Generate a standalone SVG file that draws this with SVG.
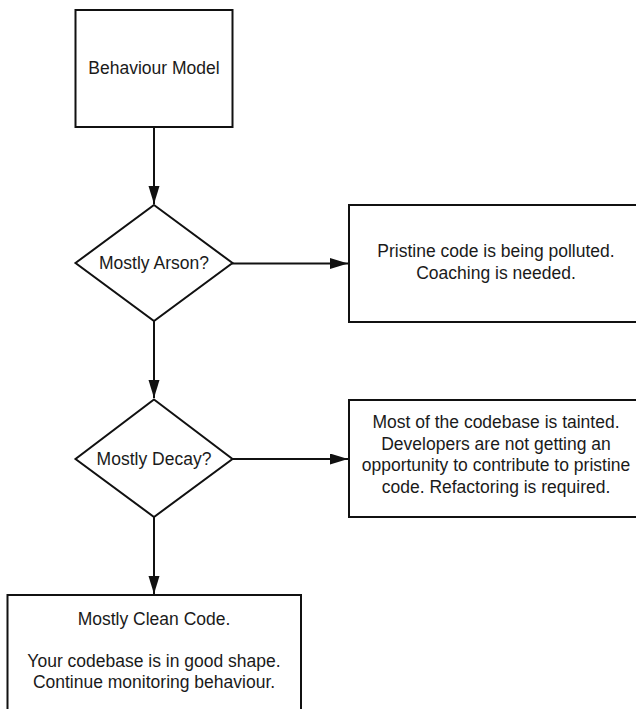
<svg xmlns="http://www.w3.org/2000/svg" width="636" height="709" viewBox="0 0 636 709">
<style>
.shape{fill:#fff;stroke:#111;stroke-width:2}
.lbl{font-family:"Liberation Sans",Arial,sans-serif;font-size:17.5px;fill:#1a1a1a;text-anchor:middle}
.conn{fill:none;stroke:#111;stroke-width:2}
</style>
<defs>
<marker id="arr" markerUnits="userSpaceOnUse" markerWidth="19" markerHeight="12" refX="18" refY="5.5" orient="auto">
<path d="M0,0 L18,5.5 L0,11 z" fill="#111"/>
</marker>
</defs>
<rect width="636" height="709" fill="#fff"/>
<g id="connectors">
<line class="conn" x1="154" y1="127" x2="154" y2="204" marker-end="url(#arr)"/>
<line class="conn" x1="232" y1="263.5" x2="348" y2="263.5" marker-end="url(#arr)"/>
<line class="conn" x1="154" y1="321" x2="154" y2="398" marker-end="url(#arr)"/>
<line class="conn" x1="232" y1="459" x2="348" y2="459" marker-end="url(#arr)"/>
<line class="conn" x1="154" y1="517" x2="154" y2="594" marker-end="url(#arr)"/>
</g>
<g id="behaviour-model">
<rect class="shape" x="75.5" y="10" width="157" height="117"/>
<text class="lbl" x="154" y="74">Behaviour Model</text>
</g>
<g id="mostly-arson">
<polygon class="shape" points="154,205 232.5,263 154,321 75.5,263"/>
<text class="lbl" x="154" y="269">Mostly Arson?</text>
</g>
<g id="coaching">
<rect class="shape" x="349" y="205" width="296" height="117"/>
<text class="lbl" x="496" y="257">Pristine code is being polluted.</text>
<text class="lbl" x="496" y="278.5">Coaching is needed.</text>
</g>
<g id="mostly-decay">
<polygon class="shape" points="154,399.5 232.5,459 154,517 75.5,459"/>
<text class="lbl" x="154" y="465">Mostly Decay?</text>
</g>
<g id="refactoring">
<rect class="shape" x="349" y="400" width="296" height="117"/>
<text class="lbl" x="496" y="428">Most of the codebase is tainted.</text>
<text class="lbl" x="496" y="449.5">Developers are not getting an</text>
<text class="lbl" x="496" y="471">opportunity to contribute to pristine</text>
<text class="lbl" x="496" y="492.5">code. Refactoring is required.</text>
</g>
<g id="clean-code">
<rect class="shape" x="7.5" y="595" width="293.5" height="130"/>
<text class="lbl" x="154" y="624.5">Mostly Clean Code.</text>
<text class="lbl" x="154" y="667">Your codebase is in good shape.</text>
<text class="lbl" x="154" y="688">Continue monitoring behaviour.</text>
</g>
</svg>
